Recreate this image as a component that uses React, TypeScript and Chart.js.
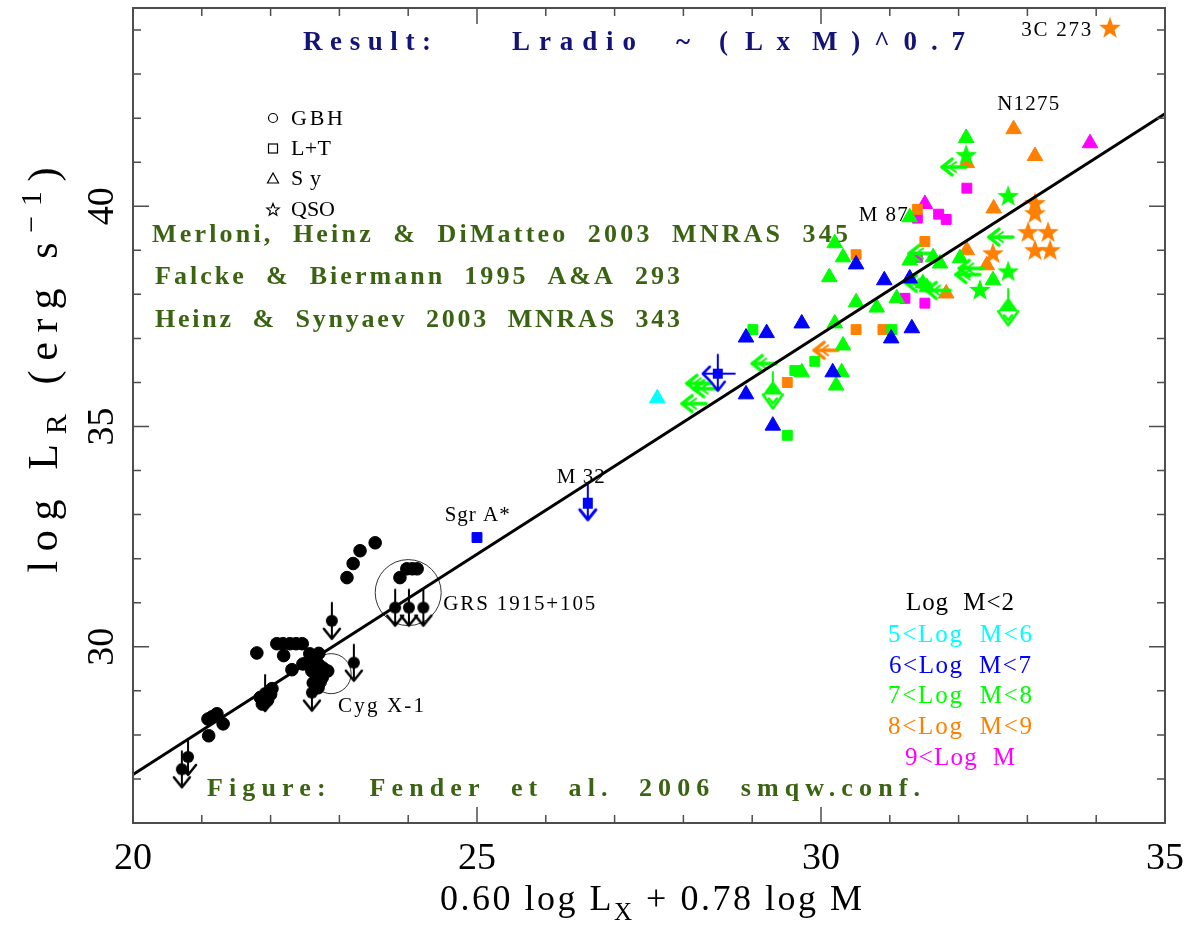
import React, { useEffect, useRef } from "react";
import { Chart, registerables } from "chart.js";

Chart.register(...registerables);

type Pt = [number, number];

// Axis extents and labelled ticks
const X_RANGE: Pt = [20, 35];
const Y_RANGE: Pt = [26, 44.5];
const xTickLabels = [20, 25, 30, 35];
const yTickLabels = [30, 35, 40];

// Fundamental-plane relation (slope 1 in these coordinates)
const fitLine: Pt[] = [
  [20, 27.1],
  [35, 42.1],
];

// Galactic black holes, log M < 2
const gbhPoints: Pt[] = [
  [23.52, 32.36], [23.3, 32.18], [23.2, 31.89], [23.11, 31.57],
  [23.88, 31.57], [23.98, 31.77], [24.06, 31.77], [24.13, 31.77],
  [21.8, 29.86],
  [22.09, 30.07], [22.18, 30.07], [22.28, 30.07], [22.37, 30.07], [22.46, 30.07],
  [22.19, 29.8], [22.31, 29.48],
  [22.47, 29.61], [22.57, 29.84], [22.65, 29.75], [22.69, 29.61], [22.76, 29.52],
  [22.67, 29.39], [22.75, 29.3], [22.62, 29.18], [22.69, 29.07], [22.83, 29.45],
  [22.55, 29.66], [22.72, 29.2], [22.6, 29.45], [22.7, 29.85],
  [21.85, 28.85], [21.95, 28.78], [22.0, 28.92], [21.88, 28.7], [22.02, 29.05],
  [21.15, 28.41], [21.22, 28.48], [21.09, 28.36], [21.31, 28.25], [21.1, 27.98],
];
const gbhLimits: Pt[] = [
  [23.81, 30.89], [24.01, 30.89], [24.22, 30.89],
  [22.89, 30.59], [23.21, 29.64], [22.6, 28.96], [21.92, 28.95],
  [20.8, 27.5], [20.71, 27.22],
];

// 5 < log M < 6
const cyanTriangles: Pt[] = [[27.62, 35.64]];

// 6 < log M < 7
const blueSquares: Pt[] = [[25.0, 32.48]];
const blueSquareLimits: Pt[] = [[26.61, 33.27]];
const blueSquareDoubleLimits: Pt[] = [[28.5, 36.2]];
const blueTriangles: Pt[] = [
  [28.91, 35.73], [29.3, 35.02], [30.17, 36.23], [28.91, 37.02], [29.21, 37.12],
  [29.72, 37.34], [30.92, 38.32], [31.29, 38.36], [30.51, 38.68], [31.02, 37.0],
  [31.32, 37.23],
];

// 7 < log M < 8
const greenSquares: Pt[] = [
  [29.01, 37.2], [29.51, 34.8], [29.62, 36.27], [29.91, 36.48], [31.03, 37.2],
];
const greenTriangles: Pt[] = [
  [30.32, 36.84], [30.3, 36.23], [30.22, 35.93], [29.72, 36.23], [32.11, 41.55],
  [30.2, 39.16], [30.32, 38.84], [30.12, 38.39], [30.2, 37.34], [31.1, 37.91],
  [30.81, 37.7], [30.51, 37.82], [31.29, 38.77], [31.63, 38.84], [31.73, 38.7],
  [31.48, 38.25], [31.29, 39.75], [32.5, 38.32], [32.02, 38.82], [31.54, 38.16],
];
const greenStars: Pt[] = [
  [32.11, 41.16], [32.72, 40.23], [32.72, 38.52], [32.31, 38.1],
];
const greenXLimits: Pt[] = [
  [31.92, 40.89], [32.6, 39.3], [32.17, 38.59], [32.12, 38.45], [31.44, 38.93],
  [31.4, 38.25], [31.69, 38.09], [28.21, 35.98], [28.14, 35.52], [28.31, 35.86],
  [29.16, 36.43],
];
const greenTriangleLimits: Pt[] = [
  [32.72, 37.64], [29.3, 35.75],
];

// 8 < log M < 9
const orangeSquares: Pt[] = [
  [29.51, 36.0], [30.51, 37.2], [30.9, 37.2], [30.51, 38.9], [31.51, 39.2], [31.4, 39.93],
];
const orangeTriangles: Pt[] = [
  [32.8, 41.75], [33.11, 41.14], [32.51, 39.95], [32.41, 38.66], [32.12, 39.0],
  [31.82, 38.02], [32.12, 40.98],
];
const orangeStars: Pt[] = [
  [33.11, 40.07], [33.11, 39.84], [33.01, 39.41], [33.3, 39.41], [33.11, 39.0],
  [33.33, 39.0], [32.5, 38.93], [34.2, 44.05],
];
const orangeXLimits: Pt[] = [[30.06, 36.73]];

// 9 < log M
const magentaSquares: Pt[] = [
  [32.12, 40.41], [31.4, 39.73], [31.71, 39.82], [31.82, 39.7], [31.51, 37.8],
  [31.22, 37.91], [31.4, 38.84],
];
const magentaTriangles: Pt[] = [[33.91, 41.43], [31.51, 40.05]];

const BLACK = "#000000";
const CYAN = "#00ffff";
const BLUE = "#0000ff";
const GREEN = "#00ff00";
const ORANGE = "#ff8000";
const MAGENTA = "#ff00ff";
const OLIVE = "#3b6412";
const NAVY = "#141478";
const SERIF = '"Liberation Serif", serif';

function makeMarker(w: number, h: number, paint: (g: CanvasRenderingContext2D) => void) {
  const c = document.createElement("canvas");
  c.width = w;
  c.height = h;
  const g = c.getContext("2d")!;
  g.lineCap = "round";
  g.lineJoin = "round";
  paint(g);
  return c;
}

function starPath(g: CanvasRenderingContext2D, cx: number, cy: number, R: number, r: number) {
  g.beginPath();
  for (let i = 0; i < 10; i++) {
    const a = -Math.PI / 2 + (i * Math.PI) / 5;
    const rad = i % 2 === 0 ? R : r;
    const px = cx + Math.cos(a) * rad;
    const py = cy + Math.sin(a) * rad;
    if (i === 0) g.moveTo(px, py);
    else g.lineTo(px, py);
  }
  g.closePath();
}

const starMarker = (color: string) =>
  makeMarker(26, 26, (g) => {
    g.fillStyle = color;
    starPath(g, 13, 13.5, 11.5, 4.7);
    g.fill();
  });

const circleLimitMarker = (color: string) =>
  makeMarker(24, 42, (g) => {
    g.strokeStyle = color;
    g.fillStyle = color;
    g.lineWidth = 2;
    g.beginPath();
    g.moveTo(12, 3);
    g.lineTo(12, 38);
    g.stroke();
    g.beginPath();
    g.arc(12, 21, 6, 0, Math.PI * 2);
    g.fill();
    g.lineWidth = 2.5;
    g.beginPath();
    g.moveTo(4, 29);
    g.lineTo(12, 39);
    g.lineTo(20, 29);
    g.stroke();
  });

const leftArrowMarker = (color: string) =>
  makeMarker(32, 22, (g) => {
    g.strokeStyle = color;
    g.fillStyle = color;
    g.lineWidth = 3.5;
    g.beginPath();
    g.moveTo(5, 11);
    g.lineTo(29, 11);
    g.stroke();
    g.beginPath();
    g.moveTo(15, 3);
    g.lineTo(5, 11);
    g.lineTo(15, 19);
    g.stroke();
    g.lineWidth = 2;
    g.beginPath();
    g.moveTo(19, 6);
    g.lineTo(12, 11);
    g.lineTo(19, 16);
    g.stroke();
  });

const triangleLimitMarker = (color: string) =>
  makeMarker(26, 44, (g) => {
    g.strokeStyle = color;
    g.fillStyle = color;
    g.lineWidth = 2;
    g.beginPath();
    g.moveTo(13, 1);
    g.lineTo(13, 12);
    g.stroke();
    g.beginPath();
    g.moveTo(13, 9);
    g.lineTo(3, 23);
    g.lineTo(23, 23);
    g.closePath();
    g.fill();
    g.lineWidth = 2.5;
    g.beginPath();
    g.moveTo(3, 23);
    g.lineTo(13, 37);
    g.lineTo(23, 23);
    g.stroke();
    g.beginPath();
    g.moveTo(9, 27);
    g.lineTo(13, 32);
    g.lineTo(17, 27);
    g.stroke();
  });

const squareLimitMarker = (color: string) =>
  makeMarker(24, 42, (g) => {
    g.strokeStyle = color;
    g.fillStyle = color;
    g.lineWidth = 2;
    g.beginPath();
    g.moveTo(12, 3);
    g.lineTo(12, 36);
    g.stroke();
    g.fillRect(7, 16, 10, 11);
    g.lineWidth = 3;
    g.beginPath();
    g.moveTo(4, 28);
    g.lineTo(12, 38);
    g.lineTo(20, 28);
    g.stroke();
  });

const squareDoubleLimitMarker = (color: string) =>
  makeMarker(40, 42, (g) => {
    g.strokeStyle = color;
    g.fillStyle = color;
    g.lineWidth = 2;
    g.beginPath();
    g.moveTo(20, 2);
    g.lineTo(20, 36);
    g.moveTo(5, 21);
    g.lineTo(37, 21);
    g.stroke();
    g.fillRect(15, 16, 10, 10);
    g.lineWidth = 2.5;
    g.beginPath();
    g.moveTo(13, 29);
    g.lineTo(20, 38);
    g.lineTo(27, 29);
    g.moveTo(12, 14);
    g.lineTo(5, 21);
    g.lineTo(12, 28);
    g.stroke();
  });

function fitText(
  ctx: CanvasRenderingContext2D,
  text: string,
  x: number,
  y: number,
  font: string,
  color: string,
  width: number,
  align: "left" | "center" = "left"
) {
  ctx.save();
  ctx.font = font;
  ctx.fillStyle = color;
  ctx.textBaseline = "middle";
  ctx.textAlign = "left";
  (ctx as any).letterSpacing = "0px";
  const natural = ctx.measureText(text).width;
  const n = Array.from(text).length;
  const spacing = n > 1 ? (width - natural) / (n - 1) : 0;
  (ctx as any).letterSpacing = `${spacing}px`;
  const left = align === "center" ? x - width / 2 : x;
  ctx.fillText(text, left, y);
  (ctx as any).letterSpacing = "0px";
  ctx.restore();
}

type Part = { t: string; size: number; dy: number };

// Draws mixed-size text (sub/superscripts), spreading letters to a target length
function drawRich(
  ctx: CanvasRenderingContext2D,
  parts: Part[],
  cx: number,
  cy: number,
  targetW: number,
  rotated: boolean
) {
  ctx.save();
  (ctx as any).letterSpacing = "0px";
  let total = 0;
  let chars = 0;
  const widths = parts.map((p) => {
    ctx.font = `${p.size}px ${SERIF}`;
    const w = ctx.measureText(p.t).width;
    total += w;
    chars += Array.from(p.t).length;
    return w;
  });
  const spacing = chars > 1 ? (targetW - total) / (chars - 1) : 0;
  ctx.translate(cx, cy);
  if (rotated) ctx.rotate(-Math.PI / 2);
  ctx.fillStyle = BLACK;
  ctx.textAlign = "left";
  ctx.textBaseline = "alphabetic";
  let pos = -targetW / 2;
  parts.forEach((p, i) => {
    ctx.font = `${p.size}px ${SERIF}`;
    (ctx as any).letterSpacing = `${spacing}px`;
    ctx.fillText(p.t, pos, p.dy);
    pos += widths[i] + spacing * Array.from(p.t).length;
  });
  (ctx as any).letterSpacing = "0px";
  ctx.restore();
}

const decor = {
  id: "decor",
  beforeDatasetsDraw(chart: any) {
    const ctx: CanvasRenderingContext2D = chart.ctx;
    const xs = chart.scales.x;
    const ys = chart.scales.y;

    // rings around GRS 1915+105 and Cyg X-1
    ctx.save();
    ctx.strokeStyle = "#333333";
    ctx.lineWidth = 1;
    const rings: [number, number, number][] = [
      [24.0, 31.23, 33],
      [22.88, 29.39, 20],
    ];
    rings.forEach(([x, y, r]) => {
      ctx.beginPath();
      ctx.arc(xs.getPixelForValue(x), ys.getPixelForValue(y), r, 0, Math.PI * 2);
      ctx.stroke();
    });
    ctx.restore();

    // object names
    const names: { t: string; x: number; y: number; w: number }[] = [
      { t: "3C 273", x: 32.91, y: 43.98, w: 70 },
      { t: "N1275", x: 32.56, y: 42.31, w: 62 },
      { t: "M 87", x: 30.55, y: 39.8, w: 49 },
      { t: "M 32", x: 26.16, y: 33.84, w: 48 },
      { t: "Sgr A*", x: 24.53, y: 32.98, w: 65 },
      { t: "GRS 1915+105", x: 24.51, y: 30.95, w: 152 },
      { t: "Cyg X-1", x: 22.98, y: 28.64, w: 86 },
    ];
    names.forEach((n) =>
      fitText(ctx, n.t, xs.getPixelForValue(n.x), ys.getPixelForValue(n.y), `21px ${SERIF}`, BLACK, n.w)
    );

    // title and references
    const titleFont = `bold 27px ${SERIF}`;
    const titleBits: [string, number, number][] = [
      ["Result:", 303, 128],
      ["Lradio", 512, 124],
      ["~", 676, 14],
      ["(", 719, 10],
      ["Lx", 745, 45],
      ["M)^0.7", 812, 153],
    ];
    titleBits.forEach(([t, x, w]) => fitText(ctx, t, x, 43, titleFont, NAVY, w));

    const refFont = `bold 26px ${SERIF}`;
    fitText(ctx, "Merloni,  Heinz  &  DiMatteo  2003  MNRAS  345", 152, 235, refFont, OLIVE, 696);
    fitText(ctx, "Falcke  &  Biermann  1995  A&A  293", 155, 277, refFont, OLIVE, 525);
    fitText(ctx, "Heinz  &  Synyaev  2003  MNRAS  343", 155, 320, refFont, OLIVE, 525);
    fitText(ctx, "Figure:   Fender  et  al.  2006  smqw.conf.", 207, 789, refFont, OLIVE, 713);

    // class legend (open symbols)
    ctx.save();
    ctx.strokeStyle = BLACK;
    ctx.lineWidth = 1.2;
    const sx = 273;
    ctx.beginPath();
    ctx.arc(sx, 118, 4.5, 0, Math.PI * 2);
    ctx.stroke();
    ctx.strokeRect(sx - 4.5, 144, 9, 9);
    ctx.beginPath();
    ctx.moveTo(sx, 173);
    ctx.lineTo(sx - 5.5, 183);
    ctx.lineTo(sx + 5.5, 183);
    ctx.closePath();
    ctx.stroke();
    starPath(ctx, sx, 210, 6.5, 2.8);
    ctx.stroke();
    ctx.restore();
    const legFont = `22px ${SERIF}`;
    fitText(ctx, "GBH", 291, 119, legFont, BLACK, 52);
    fitText(ctx, "L+T", 291, 149, legFont, BLACK, 40);
    fitText(ctx, "Sy", 291, 179, legFont, BLACK, 30);
    fitText(ctx, "QSO", 291, 210, legFont, BLACK, 44);

    // mass-bin legend
    const massFont = `25px ${SERIF}`;
    const massRows: [string, string, number, number][] = [
      ["Log  M<2", BLACK, 603, 108],
      ["5<Log  M<6", CYAN, 635, 144],
      ["6<Log  M<7", BLUE, 666, 142],
      ["7<Log  M<8", GREEN, 696, 144],
      ["8<Log  M<9", ORANGE, 727, 144],
      ["9<Log  M", MAGENTA, 758, 110],
    ];
    massRows.forEach(([t, c, y, w]) => fitText(ctx, t, 960, y, massFont, c, w, "center"));
  },
  afterDatasetsDraw(chart: any) {
    const ctx: CanvasRenderingContext2D = chart.ctx;
    const xs = chart.scales.x;
    const ys = chart.scales.y;
    const { left, right, top, bottom } = chart.chartArea;

    ctx.save();
    ctx.strokeStyle = "#4d4d4d";
    ctx.lineWidth = 2;
    ctx.strokeRect(left, top, right - left, bottom - top);
    ctx.lineWidth = 1.5;
    ctx.beginPath();
    for (let v = Math.ceil(X_RANGE[0]); v <= X_RANGE[1]; v++) {
      const p = xs.getPixelForValue(v);
      const len = v % 5 === 0 ? 16 : 8;
      ctx.moveTo(p, bottom);
      ctx.lineTo(p, bottom - len);
      ctx.moveTo(p, top);
      ctx.lineTo(p, top + len);
    }
    for (let v = Math.ceil(Y_RANGE[0]); v <= Y_RANGE[1]; v++) {
      const p = ys.getPixelForValue(v);
      const len = v % 5 === 0 ? 16 : 8;
      ctx.moveTo(left, p);
      ctx.lineTo(left + len, p);
      ctx.moveTo(right, p);
      ctx.lineTo(right - len, p);
    }
    ctx.stroke();

    ctx.fillStyle = BLACK;
    ctx.font = `38px ${SERIF}`;
    ctx.textAlign = "center";
    ctx.textBaseline = "alphabetic";
    xTickLabels.forEach((v) => ctx.fillText(String(v), xs.getPixelForValue(v), 869));
    yTickLabels.forEach((v) => {
      ctx.save();
      ctx.translate(113, ys.getPixelForValue(v));
      ctx.rotate(-Math.PI / 2);
      ctx.fillText(String(v), 0, 0);
      ctx.restore();
    });
    ctx.restore();

    drawRich(
      ctx,
      [
        { t: "0.60 log L", size: 36, dy: 0 },
        { t: "X", size: 25, dy: 10 },
        { t: " + 0.78 log M", size: 36, dy: 0 },
      ],
      651,
      910,
      422,
      false
    );
    drawRich(
      ctx,
      [
        { t: "log L", size: 42, dy: 0 },
        { t: "R", size: 30, dy: 9 },
        { t: " (erg s", size: 42, dy: 0 },
        { t: "\u22121", size: 30, dy: -16 },
        { t: ")", size: 42, dy: 0 },
      ],
      57,
      370,
      405,
      true
    );
  },
};

const toXY = (pts: Pt[]) => pts.map(([x, y]) => ({ x, y }));

export default function App() {
  const ref = useRef<HTMLCanvasElement | null>(null);

  useEffect(() => {
    const canvas = ref.current;
    if (!canvas) return;

    const scatter = (pts: Pt[], style: any, color: string, radius: number, order = 2) => ({
      type: "scatter" as const,
      data: toXY(pts),
      pointStyle: style,
      pointRadius: radius,
      pointHoverRadius: radius,
      backgroundColor: color,
      borderColor: color,
      borderWidth: 1,
      order,
    });

    const datasets: any[] = [
      {
        type: "line",
        data: toXY(fitLine),
        borderColor: BLACK,
        borderWidth: 3,
        pointRadius: 0,
        fill: false,
        order: 0,
      },
      scatter(gbhPoints, "circle", BLACK, 6.3),
      scatter(gbhLimits, circleLimitMarker(BLACK), BLACK, 10),
      scatter(cyanTriangles, "triangle", CYAN, 9),
      scatter(blueTriangles, "triangle", BLUE, 9),
      scatter(blueSquares, "rect", BLUE, 7),
      scatter(blueSquareLimits, squareLimitMarker(BLUE), BLUE, 10),
      scatter(blueSquareDoubleLimits, squareDoubleLimitMarker(BLUE), BLUE, 10),
      scatter(greenSquares, "rect", GREEN, 7),
      scatter(greenTriangles, "triangle", GREEN, 9),
      scatter(greenStars, starMarker(GREEN), GREEN, 10),
      scatter(greenXLimits, leftArrowMarker(GREEN), GREEN, 10),
      scatter(greenTriangleLimits, triangleLimitMarker(GREEN), GREEN, 10),
      scatter(orangeSquares, "rect", ORANGE, 7),
      scatter(orangeTriangles, "triangle", ORANGE, 9),
      scatter(orangeStars, starMarker(ORANGE), ORANGE, 10),
      scatter(orangeXLimits, leftArrowMarker(ORANGE), ORANGE, 10),
      scatter(magentaSquares, "rect", MAGENTA, 7),
      scatter(magentaTriangles, "triangle", MAGENTA, 9),
    ];

    const chart = new Chart(canvas, {
      type: "scatter",
      data: { datasets },
      options: {
        animation: false,
        responsive: false,
        devicePixelRatio: 1,
        events: [],
        layout: {
          padding: { left: 133, right: 23, top: 8, bottom: 102 },
          autoPadding: false,
        },
        plugins: {
          legend: { display: false },
          tooltip: { enabled: false },
        },
        scales: {
          x: { type: "linear", min: X_RANGE[0], max: X_RANGE[1], display: false },
          y: { type: "linear", min: Y_RANGE[0], max: Y_RANGE[1], display: false },
        },
      },
      plugins: [decor],
    } as any);

    return () => chart.destroy();
  }, []);

  return (
    <div style={{ position: "absolute", left: 0, top: 0, width: 1188, height: 925, background: "#ffffff" }}>
      <canvas ref={ref} width={1188} height={925} style={{ display: "block" }} />
    </div>
  );
}
